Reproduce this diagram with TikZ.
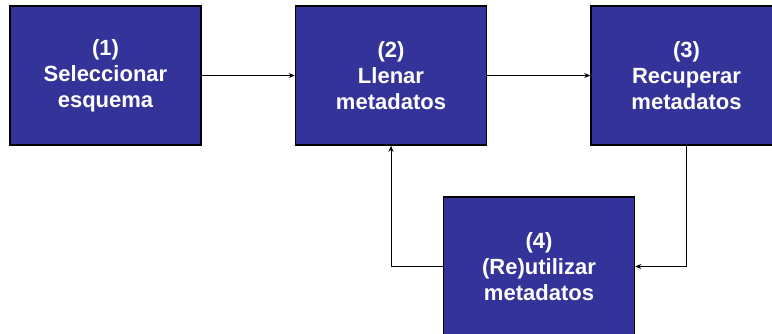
\documentclass[tikz,border=0pt]{standalone}
\usepackage{fontspec}
\setmainfont{Liberation Sans}
\usetikzlibrary{arrows.meta}
\definecolor{boxblue}{HTML}{333399}
\begin{document}
\begin{tikzpicture}[x=1pt,y=-1pt,
  stepbox/.style={draw=black, line width=1.5pt, fill=boxblue, text=white,
    minimum width=191pt, minimum height=139pt, inner sep=0pt, align=center,
    font=\fontsize{22}{26}\selectfont\bfseries},
  conn/.style={draw=black, line width=1pt, -{Stealth[length=6pt,width=5pt]}}]
\useasboundingbox (0,0) rectangle (772,333);
\clip (0,0) rectangle (772,333);
\node[stepbox] (b1) at (105.5,75.5) {(1)\\Seleccionar\\esquema};
\node[stepbox] (b2) at (391,75.5) {(2)\\Llenar\\metadatos};
\node[stepbox] (b3) at (686.5,75.5) {(3)\\Recuperar\\metadatos};
\node[stepbox] (b4) at (539,266.5) {(4)\\(Re)utilizar\\metadatos};
\draw[conn] (b1.east) -- (b2.west);
\draw[conn] (b2.east) -- (b3.west);
\draw[conn] (b3.south) |- (b4.east);
\draw[conn] (b4.west) -| (b2.south);
\end{tikzpicture}
\end{document}
